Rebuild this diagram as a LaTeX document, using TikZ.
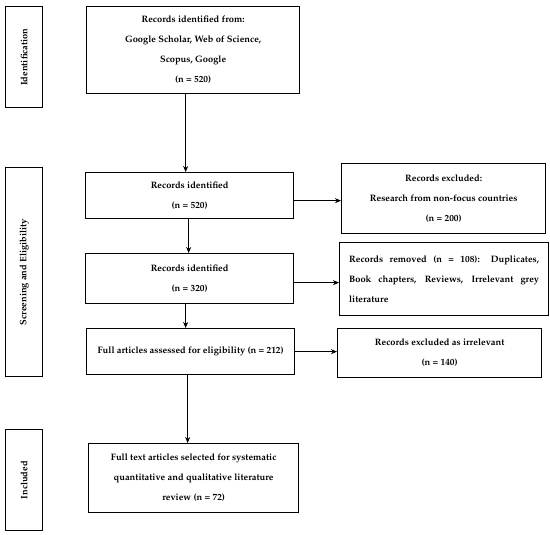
\documentclass[tikz,border=0pt]{standalone}
\usepackage[T1]{fontenc}
\usepackage{mathpazo}
\usetikzlibrary{arrows.meta}
\begin{document}
\begin{tikzpicture}[x=1pt,y=-1pt,
  box/.style={draw,line width=1.3pt,anchor=north west,inner sep=0pt,align=center,font=\fontsize{9.3}{20}\selectfont\bfseries},
  side/.style={draw,line width=1.3pt,anchor=north west,inner sep=0pt,minimum width=37pt},
  sidelabel/.style={rotate=90,font=\fontsize{9.3}{10}\selectfont\bfseries},
  arr/.style={line width=0.9pt,-{Stealth[length=6pt,width=5pt]}}]
\useasboundingbox (0,0) rectangle (550,535);
% side boxes
\node[side,minimum height=101pt] (sid) at (5,6) {};
\node[sidelabel] (lid) at (sid.center) {Identification};
\node[side,minimum height=209pt] (ssc) at (5,167) {};
\node[sidelabel] (lsc) at (ssc.center) {Screening and Eligibility};
\node[side,minimum height=101pt] (sin) at (5,429) {};
\node[sidelabel] (lin) at (sin.center) {Included};
% main boxes
\node[box,minimum width=213pt,minimum height=87pt] (b1) at (86,6)
  {Records identified from:\\Google Scholar, Web of Science,\\Scopus, Google\\(n = 520)};
\node[box,minimum width=208pt,minimum height=46pt] (b2) at (85,172)
  {Records identified\\(n = 520)};
\node[box,minimum width=204pt,minimum height=70pt] (b3) at (341,163)
  {Records excluded:\\Research from non-focus countries\\(n = 200)};
\node[box,minimum width=208pt,minimum height=50pt] (b4) at (85,253)
  {Records identified\\(n = 320)};
\node[box,minimum width=209pt,minimum height=73pt,text width=190pt,align=justify] (b5) at (339,242)
  {\hyphenpenalty=10000 Records removed (n = 108): Duplicates,\linebreak Book chapters, Reviews, Irrelevant grey\linebreak literature};
\node[box,minimum width=208pt,minimum height=46pt] (b6) at (86,328)
  {Full articles assessed for eligibility (n = 212)};
\node[box,minimum width=204pt,minimum height=49pt] (b7) at (337,328)
  {Records excluded as irrelevant\\(n = 140)};
\node[box,minimum width=210pt,minimum height=69pt] (b8) at (88,443)
  {Full text articles selected for systematic\\quantitative and qualitative literature\\review (n = 72)};
% connectors
\draw[arr] ([xshift=-7.5pt]b1.south) -- ([xshift=-7.5pt]b1.south |- b2.north);
\draw[arr] ([xshift=-1pt]b2.south) -- ([xshift=-1pt]b2.south |- b4.north);
\draw[arr] ([xshift=-4pt]b4.south) -- ([xshift=-4pt]b4.south |- b6.north);
\draw[arr] ([xshift=-3pt]b6.south) -- ([xshift=-3pt]b6.south |- b8.north);
\draw[arr] ([yshift=-5pt]b2.east) -- ([yshift=-5pt]b2.east -| b3.west);
\draw[arr] ([yshift=-4pt]b4.east) -- ([yshift=-4pt]b4.east -| b5.west);
\draw[arr] (b6.east) -- (b6.east -| b7.west);
\end{tikzpicture}
\end{document}
